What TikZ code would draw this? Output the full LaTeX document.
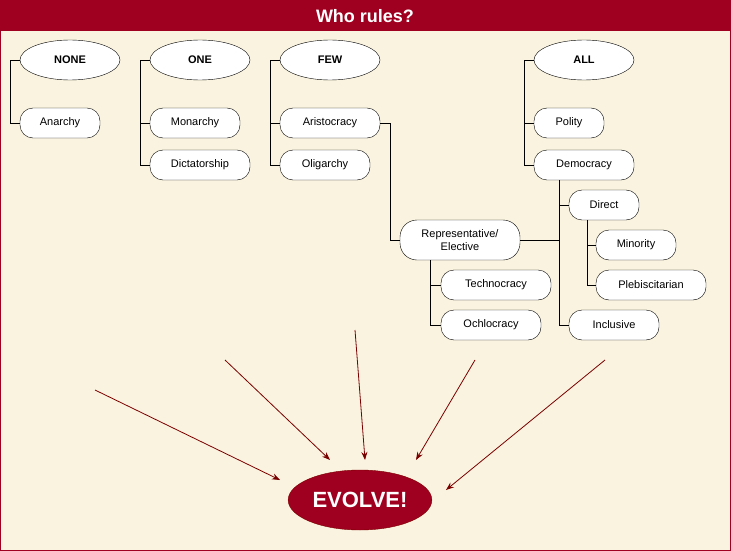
\documentclass[tikz,border=0pt]{standalone}
\usepackage{fontspec}
\setmainfont{Liberation Sans}
\usetikzlibrary{shapes.geometric}
\usetikzlibrary{arrows.meta}
\definecolor{wine}{HTML}{A00020}
\definecolor{cream}{HTML}{FAF3DF}
\definecolor{arrowred}{HTML}{7A0000}
\tikzset{
	head/.style={ellipse, draw, fill=white, minimum width=100pt, minimum height=40pt, inner sep=0pt, font=\fontsize{11}{13}\selectfont\bfseries},
	form/.style={rounded corners=13pt, draw, fill=white, minimum height=30pt, inner sep=0pt, font=\fontsize{11}{13}\selectfont, align=center},
	tree/.style={draw, line width=0.6pt},
	flow/.style={draw=arrowred, line width=0.8pt, -{Stealth[length=8pt,width=6pt]}}
}
\begin{document}
\begin{tikzpicture}[x=1pt, y=-1pt]
		\useasboundingbox (0,0) rectangle (731,551);
		\fill[cream] (0,0) rectangle (731,551);
		\fill[wine] (0,0) rectangle (731,31);
		\draw[wine, line width=1pt] (0.5,0.5) rectangle (730.5,550.5);
		\node[text=white, font=\fontsize{18}{20}\selectfont\bfseries] (title) at (365,16) {Who rules?};
		\node[head] (none) at (70,60) {NONE};
		\node[head] (one) at (200,60) {ONE};
		\node[head] (few) at (330,60) {FEW};
		\node[head] (all) at (584,60) {ALL};
		\node[form, minimum width=80pt] (anarchy) at (60,123) {Anarchy};
		\node[form, minimum width=90pt] (monarchy) at (195,123) {Monarchy};
		\node[form, minimum width=100pt] (dictatorship) at (200,165) {Dictatorship};
		\node[form, minimum width=100pt] (aristocracy) at (330,123) {Aristocracy};
		\node[form, minimum width=90pt] (oligarchy) at (325,165) {Oligarchy};
		\node[form, minimum width=70pt] (polity) at (569,123) {Polity};
		\node[form, minimum width=100pt] (democracy) at (584,165) {Democracy};
		\node[form, minimum width=70pt] (direct) at (604,205) {Direct};
		\node[form, minimum width=80pt] (minority) at (636,245) {Minority};
		\node[form, minimum width=110pt] (plebiscitarian) at (651,285) {Plebiscitarian};
		\node[form, minimum width=120pt, minimum height=40pt, rounded corners=17pt] (representative) at (460,240) {Representative/\\Elective};
		\node[form, minimum width=110pt] (technocracy) at (496,285) {Technocracy};
		\node[form, minimum width=100pt] (ochlocracy) at (491,325) {Ochlocracy};
		\node[form, minimum width=90pt] (inclusive) at (614,325) {Inclusive};
		\node[ellipse, fill=wine, draw=arrowred, minimum width=140pt, minimum height=60pt, text=white, font=\fontsize{22}{24}\selectfont\bfseries] (evolve) at (360,500) {EVOLVE!};
		% brackets
		\draw[tree] (none.west) -- ++(-10,0) |- (anarchy.west);
		\draw[tree] (one.west) -- ++(-10,0) |- (dictatorship.west);
		\draw[tree] (monarchy.west) -- ++(-10,0);
		\draw[tree] (few.west) -- ++(-10,0) |- (oligarchy.west);
		\draw[tree] (aristocracy.west) -- ++(-10,0);
		\draw[tree] (all.west) -- ++(-10,0) |- (democracy.west);
		\draw[tree] (polity.west) -- ++(-10,0);
		\draw[tree] (aristocracy.east) -- ++(10,0) |- (representative.west);
		\draw[tree] (representative.east) -- (559,240);
		\draw[tree] (559,180) |- (inclusive.west);
		\draw[tree] (559,205) -- (direct.west);
		\draw[tree] (587,220) |- (plebiscitarian.west);
		\draw[tree] (587,245) -- (minority.west);
		\draw[tree] (430,260) |- (ochlocracy.west);
		\draw[tree] (430,285) -- (technocracy.west);
		% arrows
		\coordinate (s1) at (95,390);
		\coordinate (s2) at (225,360);
		\coordinate (s3) at (355,330);
		\coordinate (s4) at (475,360);
		\coordinate (s5) at (605,360);
		\coordinate (e1) at (280,480);
		\coordinate (e2) at (330,460);
		\coordinate (e3) at (365,460);
		\coordinate (e4) at (416,460);
		\coordinate (e5) at (446,490);
		\foreach \i in {1,...,5}
			\draw[flow] (s\i) -- (e\i);
\end{tikzpicture}
\end{document}
